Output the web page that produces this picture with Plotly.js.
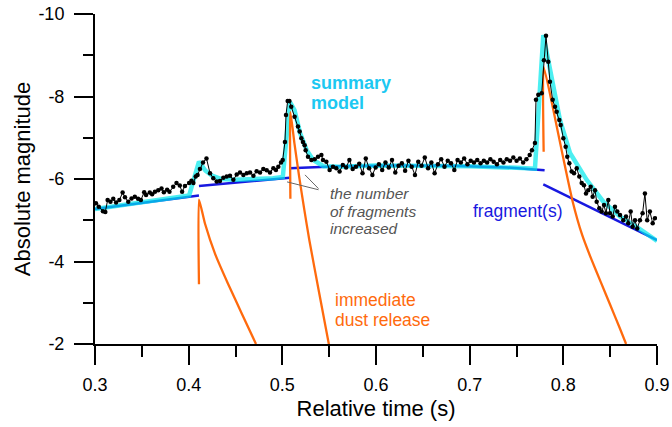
<!DOCTYPE html>
<html>
<head>
<meta charset="utf-8">
<script src="https://cdn.plot.ly/plotly-3.0.1.min.js"></script>
<style>html,body{margin:0;padding:0;background:#fff;}#chart{width:672px;height:427px;}</style>
</head>
<body>
<div id="chart"></div>
<script>
// Observed light curve (relative time, absolute magnitude)
const obsTime = [0.301,0.304,0.3085,0.311,0.3135,0.3165,0.3195,0.3225,0.326,0.3295,0.332,0.3355,0.339,0.3425,0.346,0.349,0.3525,0.3545,0.3585,0.361,0.364,0.3675,0.371,0.3735,0.377,0.3795,0.3835,0.387,0.3905,0.393,0.396,0.4005,0.403,0.405,0.4075,0.4095,0.412,0.4153,0.419,0.4228,0.4263,0.4299,0.4334,0.437,0.4406,0.4441,0.4477,0.4513,0.4548,0.4584,0.462,0.4655,0.4691,0.4726,0.4762,0.4797,0.4833,0.4868,0.4904,0.4932,0.4957,0.4986,0.5004,0.5028,0.5039,0.5057,0.5075,0.5095,0.5131,0.5167,0.5185,0.5203,0.522,0.5238,0.5249,0.5274,0.531,0.5345,0.5381,0.5417,0.5434,0.547,0.5505,0.5541,0.5576,0.5611,0.5646,0.5681,0.5716,0.5751,0.5786,0.5821,0.5856,0.5891,0.5926,0.5961,0.5996,0.6031,0.6066,0.6101,0.6136,0.6171,0.6206,0.6241,0.6276,0.6311,0.6346,0.6381,0.6416,0.6451,0.6486,0.6521,0.6556,0.6591,0.6626,0.6661,0.6696,0.6731,0.6766,0.6801,0.6836,0.6871,0.6906,0.6941,0.6976,0.7011,0.7046,0.7081,0.7116,0.7151,0.7186,0.7221,0.7256,0.7291,0.7326,0.7361,0.7396,0.7431,0.7466,0.7501,0.7536,0.7571,0.7606,0.7641,0.7665,0.7697,0.7708,0.7733,0.7769,0.7793,0.7815,0.7839,0.7857,0.7886,0.7911,0.7929,0.7957,0.7972,0.8000,0.8025,0.8042,0.8064,0.8089,0.8114,0.8143,0.8170,0.8196,0.8220,0.8242,0.8266,0.8292,0.8313,0.8338,0.8356,0.8384,0.8409,0.8434,0.8455,0.8480,0.8498,0.8527,0.8551,0.8576,0.8605,0.8640,0.8669,0.8693,0.8719,0.8740,0.8765,0.8789,0.8818,0.8846,0.8871,0.8895,0.8924,0.8954,0.8978];
const obsMag = [-5.41,-5.33,-5.22,-5.20,-5.49,-5.45,-5.52,-5.43,-5.49,-5.67,-5.56,-5.45,-5.53,-5.57,-5.52,-5.49,-5.68,-5.61,-5.67,-5.63,-5.69,-5.73,-5.77,-5.68,-5.74,-5.69,-5.81,-5.90,-5.84,-5.69,-5.83,-5.90,-5.96,-5.90,-6.06,-6.10,-6.24,-6.40,-6.50,-6.14,-6.02,-5.94,-5.95,-6.03,-6.06,-6.08,-5.98,-6.11,-6.16,-6.10,-6.14,-6.16,-6.08,-6.19,-6.16,-6.24,-6.21,-6.16,-6.26,-6.22,-6.30,-6.40,-6.46,-6.90,-7.55,-7.89,-7.89,-7.75,-7.51,-7.27,-7.15,-6.99,-6.90,-6.82,-6.70,-6.54,-6.46,-6.48,-6.54,-6.58,-6.46,-6.42,-6.22,-6.30,-6.26,-6.18,-6.34,-6.28,-6.46,-6.24,-6.30,-6.37,-6.14,-6.50,-6.26,-6.10,-6.28,-6.36,-6.22,-6.40,-6.28,-6.46,-6.16,-6.32,-6.38,-6.20,-6.44,-6.30,-6.10,-6.42,-6.32,-6.52,-6.26,-6.40,-6.14,-6.36,-6.48,-6.30,-6.44,-6.38,-6.22,-6.46,-6.40,-6.50,-6.36,-6.44,-6.40,-6.46,-6.38,-6.44,-6.40,-6.48,-6.42,-6.36,-6.46,-6.40,-6.48,-6.44,-6.52,-6.44,-6.50,-6.40,-6.48,-6.58,-6.70,-6.87,-7.92,-8.04,-8.08,-8.88,-9.47,-8.84,-8.36,-7.92,-7.75,-7.63,-7.43,-7.31,-6.99,-6.78,-6.54,-6.38,-6.18,-6.14,-6.26,-6.06,-5.90,-5.85,-5.65,-5.73,-5.81,-5.57,-5.73,-5.45,-5.29,-5.21,-5.37,-5.17,-5.49,-5.17,-5.09,-5.33,-5.21,-5.13,-5.00,-5.09,-4.93,-5.21,-4.84,-5.00,-4.80,-5.00,-5.17,-5.65,-5.00,-5.21,-4.93,-5.05];

// Summary model
const sumTime = [0.300,0.350,0.4005,0.411,0.418,0.425,0.435,0.450,0.470,0.490,0.5005,0.508,0.513,0.519,0.526,0.533,0.544,0.560,0.600,0.650,0.700,0.750,0.7697,0.7786,0.7839,0.7893,0.7964,0.8071,0.8249,0.8427,0.8605,0.8783,0.900];
const sumMag  = [-5.27,-5.43,-5.60,-6.42,-6.20,-6.08,-6.00,-5.98,-5.99,-6.02,-6.05,-7.87,-7.67,-7.11,-6.70,-6.46,-6.31,-6.30,-6.33,-6.33,-6.31,-6.27,-6.25,-9.49,-8.88,-8.24,-7.43,-6.63,-5.98,-5.45,-5.09,-4.84,-4.50];

// Fragment(s) model, separate segments
const fragTime = [0.300,0.411,null,0.411,0.508,null,0.508,0.560,0.620,0.680,0.740,0.780,null,0.7786,0.900];
const fragMag  = [-5.27,-5.60,null,-5.83,-6.03,null,-6.26,-6.31,-6.33,-6.32,-6.28,-6.21,null,-5.87,-4.52];

// Immediate dust release components
const dust1Time = [0.411,0.411,0.4174,0.4281,0.442,0.4569,0.4719];
const dust1Mag  = [-3.45,-5.50,-4.92,-4.19,-3.46,-2.73,-2.00];
const dust2Time = [0.5086,0.5086,0.513,0.518,0.5235,0.5288,0.5395,0.5498];
const dust2Mag  = [-5.52,-7.62,-6.85,-6.05,-5.25,-4.52,-3.22,-1.98];
const dust3Time = [0.7790,0.7790,0.79,0.80,0.81,0.82,0.83,0.84,0.85,0.86,0.867];
const dust3Mag  = [-6.66,-8.72,-7.60,-6.50,-5.45,-4.65,-4.05,-3.50,-2.95,-2.40,-2.00];

// Ticks
const xTickVals = [0.3,0.4,0.5,0.6,0.7,0.8,0.9];
const xTickText = ['0.3','0.4','0.5','0.6','0.7','0.8','0.9'];
const xMinorVals = [0.35,0.45,0.55,0.65,0.75,0.85];
const yTickVals = [-10,-8,-6,-4,-2];
const yTickText = ['-10','-8','-6','-4','-2'];
const yMinorVals = [-9,-7,-5,-3];
const yRightVals = [-10,-9,-8,-7,-6,-5,-4,-3,-2];

const ORANGE = '#ff6a0d';
const BLUE = '#1818e0';
const CYAN = 'rgba(0,232,235,0.7)';

const traces = [
  {x: fragTime, y: fragMag, mode: 'lines', line: {color: BLUE, width: 2.5}, connectgaps: false, hoverinfo: 'skip'},
  {x: sumTime, y: sumMag, mode: 'lines', line: {color: CYAN, width: 4.5}, hoverinfo: 'skip'},
  {x: dust1Time, y: dust1Mag, mode: 'lines', line: {color: ORANGE, width: 2.3, shape: 'spline', smoothing: 0.5}},
  {x: dust2Time, y: dust2Mag, mode: 'lines', line: {color: ORANGE, width: 2.3, shape: 'spline', smoothing: 0.5}},
  {x: dust3Time, y: dust3Mag, mode: 'lines', line: {color: ORANGE, width: 2.3, shape: 'spline', smoothing: 0.5}},
  {x: obsTime, y: obsMag, mode: 'lines+markers', line: {color: '#000', width: 1}, marker: {color: '#000', size: 4.5}}
];

const annFont = 'Liberation Sans, Arial, sans-serif';
function label(text, x, y, color, size, extra) {
  return Object.assign({x: x, y: y, xref: 'x', yref: 'y', text: text, showarrow: false,
    xanchor: 'left', yanchor: 'middle', font: {family: annFont, size: size, color: color}}, extra || {});
}

const layout = {
  width: 672, height: 427,
  margin: {l: 95, r: 15, t: 14, b: 83, pad: 0},
  paper_bgcolor: '#fff', plot_bgcolor: '#fff',
  showlegend: false,
  font: {family: annFont, color: '#000'},
  xaxis: {
    range: [0.3, 0.9], showgrid: false, zeroline: false,
    showline: true, linewidth: 2, linecolor: '#000',
    ticks: 'outside', ticklen: 19, tickwidth: 2, tickcolor: '#000',
    tickmode: 'array', tickvals: xTickVals, ticktext: xTickText,
    tickfont: {size: 18, color: '#000'}, ticklabelstandoff: 4,
    minor: {tickmode: 'array', tickvals: xMinorVals, ticks: 'outside', ticklen: 11, tickwidth: 2, tickcolor: '#000', showgrid: false},
    title: {text: 'Relative time (s)', font: {size: 22, color: '#000'}, standoff: 7}
  },
  yaxis: {
    range: [-2, -10], showgrid: false, zeroline: false,
    showline: true, linewidth: 2, linecolor: '#000',
    ticks: 'outside', ticklen: 19, tickwidth: 2, tickcolor: '#000',
    tickmode: 'array', tickvals: yTickVals, ticktext: yTickText,
    tickfont: {size: 18, color: '#000'}, ticklabelstandoff: 6,
    minor: {tickmode: 'array', tickvals: yMinorVals, ticks: 'outside', ticklen: 10, tickwidth: 2, tickcolor: '#000', showgrid: false},
    title: {text: 'Absolute magnitude', font: {size: 22, color: '#000'}, standoff: 2}
  },
  xaxis2: {
    overlaying: 'x', side: 'top', anchor: 'y', range: [0.3, 0.9],
    showgrid: false, zeroline: false, showline: true, linewidth: 2, linecolor: '#000',
    ticks: 'inside', ticklen: 12, tickwidth: 2, tickcolor: '#000',
    tickmode: 'array', tickvals: xTickVals, showticklabels: false
  },
  yaxis2: {
    overlaying: 'y', side: 'right', anchor: 'x', range: [-2, -10],
    showgrid: false, zeroline: false, showline: true, linewidth: 2, linecolor: '#000',
    ticks: 'inside', ticklen: 10, tickwidth: 2, tickcolor: '#000',
    tickmode: 'array', tickvals: yRightVals, showticklabels: false
  },
  annotations: [
    label('<b>summary</b>', 0.5285, -8.33, '#1cc8f2', 18),
    label('<b>model</b>', 0.5285, -7.84, '#1cc8f2', 18),
    label('<i>the number</i>', 0.5487, -5.66, '#555', 15.5),
    label('<i>of fragments</i>', 0.5487, -5.22, '#555', 15.5),
    label('<i>increased</i>', 0.5487, -4.79, '#555', 15.5),
    label('fragment(s)', 0.7014, -5.22, BLUE, 17.5),
    label('immediate', 0.5541, -3.07, ORANGE, 17.5),
    label('dust release', 0.5541, -2.58, ORANGE, 17.5),
    {x: 0.5242, y: -6.10, ax: 0.5402, ay: -5.73, xref: 'x', yref: 'y', axref: 'x', ayref: 'y',
     text: '', showarrow: true, arrowhead: 0, arrowwidth: 1, arrowcolor: '#666', standoff: 0, startstandoff: 0},
    {x: 0.505, y: -5.93, ax: 0.5402, ay: -5.73, xref: 'x', yref: 'y', axref: 'x', ayref: 'y',
     text: '', showarrow: true, arrowhead: 0, arrowwidth: 1, arrowcolor: '#666', standoff: 0, startstandoff: 0}
  ]
};

Plotly.newPlot('chart', traces, layout, {staticPlot: true, displayModeBar: false});
</script>
</body>
</html>
